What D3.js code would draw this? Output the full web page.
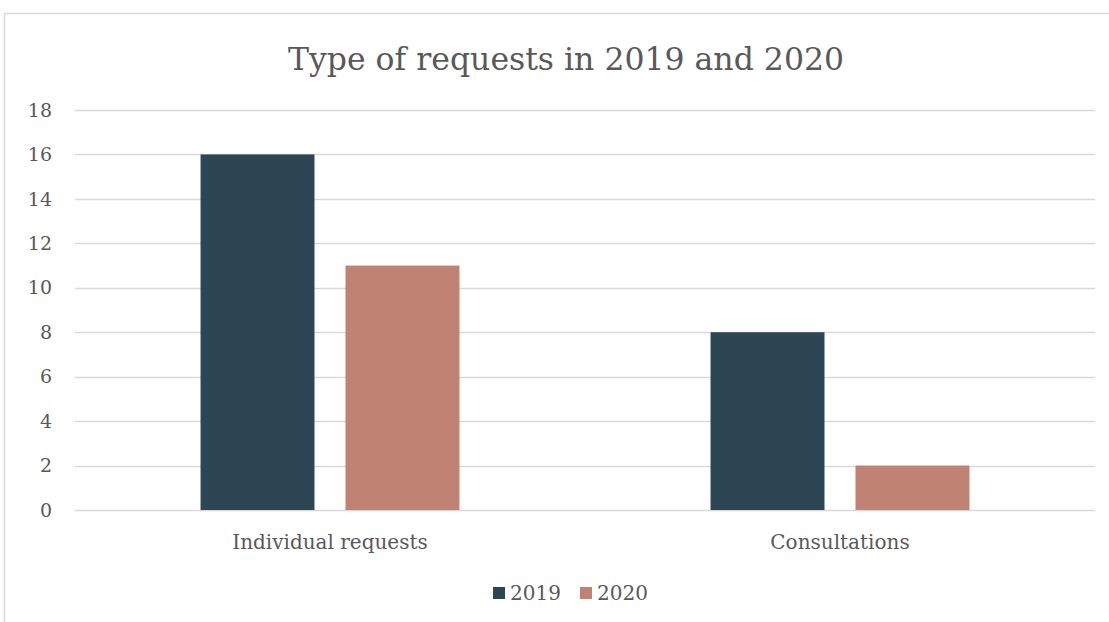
<!DOCTYPE html>
<html>
<head>
<meta charset="utf-8">
<script src="https://cdn.jsdelivr.net/npm/d3@7"></script>
<style>
  body { margin: 0; background: #fff; }
  text { font-family: "DejaVu Serif", "Liberation Serif", serif; fill: #595959; }
</style>
</head>
<body>
<div id="chart"></div>
<script>
var categories = ['Individual requests', 'Consultations']
var years = ['2019', '2020']
var values2019 = [16, 8]
var values2020 = [11, 2]
var yTicks = [0, 2, 4, 6, 8, 10, 12, 14, 16, 18]
var colors = ['#2c4653', '#c08272']

var W = 1109, H = 622
var svg = d3.select('#chart').append('svg').attr('width', W).attr('height', H)

// chart frame (clipped at the right and bottom)
svg.append('path')
  .attr('d', 'M4.5,' + H + 'V13.5H' + W)
  .attr('fill', 'none').attr('stroke', '#d9d9d9').attr('stroke-width', 1.5)

var plotL = 75, plotR = 1095, plotT = 110, plotB = 510

var x0 = d3.scaleBand().domain(categories).range([plotL, plotR])
var x1 = d3.scaleBand().domain(years).range([0, x0.bandwidth()])
  .paddingInner(0.214).paddingOuter(0.866)
var y = d3.scaleLinear().domain([0, 18]).range([plotB, plotT])

svg.append('text')
  .attr('x', 566).attr('y', 70)
  .attr('text-anchor', 'middle')
  .style('font-size', '31.5px')
  .text('Type of requests in 2019 and 2020')

// gridlines
svg.append('g').selectAll('line').data(yTicks).join('line')
  .attr('x1', plotL).attr('x2', plotR)
  .attr('y1', d => Math.round(y(d)) + 0.5).attr('y2', d => Math.round(y(d)) + 0.5)
  .attr('stroke', '#d9d9d9').attr('stroke-width', 1.5)

// y tick labels
svg.append('g').selectAll('text').data(yTicks).join('text')
  .attr('x', 52).attr('y', d => y(d))
  .attr('dy', '0.35em')
  .attr('text-anchor', 'end')
  .style('font-size', '19px')
  .text(d => d)

var rows = categories.map((c, i) => ({cat: c, vals: [values2019[i], values2020[i]]}))

var groups = svg.append('g').selectAll('g').data(rows).join('g')
  .attr('transform', d => 'translate(' + x0(d.cat) + ',0)')

groups.selectAll('rect').data(d => d.vals.map((v, i) => ({year: years[i], v: v, i: i}))).join('rect')
  .attr('x', d => x1(d.year))
  .attr('width', x1.bandwidth())
  .attr('y', d => y(d.v))
  .attr('height', d => y(0) - y(d.v))
  .attr('fill', d => colors[d.i])

// category labels
svg.append('g').selectAll('text').data(categories).join('text')
  .attr('x', d => x0(d) + x0.bandwidth() / 2)
  .attr('y', 549)
  .attr('text-anchor', 'middle')
  .style('font-size', '20px')
  .text(d => d)

// legend
var legendX = [493, 580]
var leg = svg.append('g').selectAll('g').data(years).join('g')
  .attr('transform', (d, i) => 'translate(' + legendX[i] + ',587)')
leg.append('rect').attr('width', 12).attr('height', 12).attr('fill', (d, i) => colors[i])
leg.append('text').attr('x', 17).attr('y', 6).attr('dy', '0.35em')
  .style('font-size', '20px').text(d => d)
</script>
</body>
</html>
